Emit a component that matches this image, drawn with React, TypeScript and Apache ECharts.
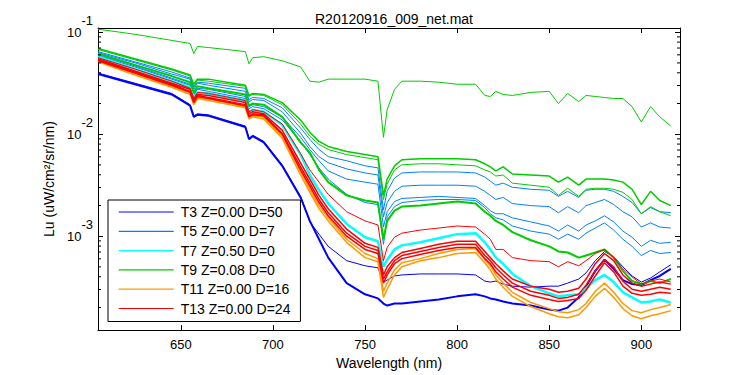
import React, { useEffect, useRef } from 'react';
import * as echarts from 'echarts';

// Wavelength axis (nm) shared by every cast
const wavelengths = [605, 625, 645, 655, 657, 659, 665, 685, 687, 689, 695, 705, 715, 720, 725, 730, 740, 750, 757, 760, 762, 766, 770, 780, 790, 800, 810, 815, 818, 821, 825, 830, 840, 850, 855, 860, 866, 870, 875, 880, 885, 890, 895, 900, 905, 910, 916];

// log10 of Lu (uW/cm^2/sr/nm)
const t3Cast1 = [-1.41, -1.51, -1.61, -1.72, -1.83, -1.81, -1.82, -1.93, -2.05, -2.02, -2.08, -2.31, -2.62, -2.85, -3.03, -3.21, -3.46, -3.57, -3.61, -3.66, -3.68, -3.66, -3.66, -3.64, -3.62, -3.59, -3.57, -3.59, -3.61, -3.62, -3.64, -3.66, -3.68, -3.72, -3.73, -3.70, -3.60, -3.49, -3.34, -3.23, -3.32, -3.43, -3.47, -3.48, -3.43, -3.39, -3.32];
const t3Cast2 = [-1.40, -1.50, -1.60, -1.71, -1.82, -1.80, -1.81, -1.92, -2.04, -2.01, -2.07, -2.30, -2.61, -2.86, -2.98, -3.10, -3.24, -3.29, -3.31, -3.45, -3.43, -3.39, -3.38, -3.37, -3.37, -3.37, -3.38, -3.44, -3.45, -3.44, -3.47, -3.49, -3.50, -3.49, -3.49, -3.46, -3.42, -3.36, -3.24, -3.15, -3.20, -3.30, -3.39, -3.45, -3.41, -3.35, -3.28];

const t5Cast1 = [-1.19, -1.29, -1.39, -1.45, -1.54, -1.49, -1.50, -1.55, -1.66, -1.64, -1.65, -1.74, -1.94, -2.05, -2.15, -2.22, -2.26, -2.31, -2.33, -2.74, -2.56, -2.43, -2.38, -2.37, -2.37, -2.37, -2.38, -2.42, -2.46, -2.50, -2.48, -2.52, -2.54, -2.55, -2.61, -2.56, -2.62, -2.55, -2.54, -2.54, -2.56, -2.61, -2.67, -2.78, -2.72, -2.76, -2.77];
const t5Cast2 = [-1.20, -1.30, -1.41, -1.46, -1.56, -1.50, -1.52, -1.58, -1.68, -1.66, -1.67, -1.78, -1.99, -2.12, -2.22, -2.28, -2.34, -2.38, -2.40, -2.81, -2.67, -2.56, -2.51, -2.50, -2.50, -2.50, -2.51, -2.56, -2.60, -2.64, -2.62, -2.68, -2.70, -2.71, -2.77, -2.71, -2.77, -2.70, -2.67, -2.64, -2.69, -2.76, -2.81, -2.91, -2.87, -2.91, -2.92];
const t5Cast3 = [-1.22, -1.33, -1.45, -1.51, -1.61, -1.55, -1.56, -1.63, -1.73, -1.71, -1.73, -1.83, -2.03, -2.15, -2.26, -2.36, -2.44, -2.47, -2.49, -2.91, -2.76, -2.66, -2.63, -2.62, -2.61, -2.62, -2.63, -2.70, -2.75, -2.78, -2.78, -2.82, -2.86, -2.90, -2.95, -2.89, -2.95, -2.89, -2.85, -2.80, -2.86, -2.95, -3.01, -3.10, -3.04, -3.07, -3.06];
const t5Cast4 = [-1.23, -1.34, -1.46, -1.52, -1.62, -1.56, -1.58, -1.65, -1.75, -1.73, -1.75, -1.86, -2.07, -2.20, -2.33, -2.44, -2.59, -2.67, -2.69, -3.08, -2.81, -2.71, -2.67, -2.65, -2.64, -2.64, -2.65, -2.72, -2.78, -2.82, -2.84, -2.90, -2.95, -2.98, -3.03, -2.98, -3.03, -2.97, -2.92, -2.87, -2.94, -3.03, -3.10, -3.19, -3.14, -3.17, -3.16];

const t7Cast1 = [-1.24, -1.36, -1.48, -1.54, -1.64, -1.59, -1.60, -1.67, -1.78, -1.76, -1.78, -1.91, -2.20, -2.40, -2.55, -2.68, -2.88, -3.01, -3.05, -3.30, -3.23, -3.13, -3.09, -3.06, -3.02, -2.98, -2.97, -3.06, -3.13, -3.21, -3.27, -3.37, -3.49, -3.56, -3.59, -3.58, -3.57, -3.51, -3.43, -3.38, -3.45, -3.55, -3.60, -3.65, -3.64, -3.62, -3.65];

const t9Cast1 = [-0.97, -1.02, -1.08, -1.11, -1.21, -1.14, -1.15, -1.19, -1.31, -1.25, -1.24, -1.28, -1.34, -1.48, -1.49, -1.46, -1.46, -1.46, -1.48, -2.03, -1.76, -1.56, -1.48, -1.48, -1.49, -1.51, -1.51, -1.62, -1.63, -1.58, -1.61, -1.62, -1.59, -1.58, -1.70, -1.60, -1.68, -1.62, -1.63, -1.64, -1.65, -1.65, -1.73, -1.88, -1.73, -1.83, -1.92];
const t9Cast2 = [-1.16, -1.26, -1.36, -1.42, -1.51, -1.46, -1.46, -1.52, -1.62, -1.60, -1.61, -1.69, -1.86, -1.98, -2.07, -2.12, -2.17, -2.20, -2.22, -2.60, -2.44, -2.31, -2.25, -2.24, -2.24, -2.24, -2.25, -2.29, -2.32, -2.36, -2.32, -2.39, -2.40, -2.41, -2.47, -2.42, -2.50, -2.44, -2.44, -2.44, -2.45, -2.47, -2.54, -2.69, -2.56, -2.65, -2.70];
const t9Cast3 = [-1.17, -1.27, -1.37, -1.43, -1.53, -1.47, -1.48, -1.53, -1.63, -1.61, -1.62, -1.71, -1.90, -2.02, -2.10, -2.15, -2.20, -2.23, -2.25, -2.64, -2.49, -2.35, -2.30, -2.29, -2.29, -2.30, -2.31, -2.35, -2.37, -2.41, -2.40, -2.48, -2.50, -2.52, -2.60, -2.53, -2.61, -2.54, -2.53, -2.53, -2.54, -2.57, -2.64, -2.78, -2.71, -2.76, -2.80];
const t9Cast4 = [-1.21, -1.32, -1.43, -1.49, -1.59, -1.53, -1.55, -1.61, -1.72, -1.70, -1.71, -1.83, -2.08, -2.18, -2.35, -2.47, -2.60, -2.65, -2.67, -3.03, -2.85, -2.75, -2.71, -2.70, -2.68, -2.66, -2.68, -2.76, -2.80, -2.85, -2.89, -2.96, -3.04, -3.10, -3.15, -3.16, -3.21, -3.19, -3.16, -3.13, -3.21, -3.34, -3.44, -3.47, -3.44, -3.46, -3.42];

const t11Cast1 = [-1.28, -1.40, -1.53, -1.59, -1.69, -1.64, -1.65, -1.73, -1.83, -1.82, -1.83, -2.02, -2.37, -2.54, -2.70, -2.82, -3.03, -3.17, -3.22, -3.54, -3.46, -3.33, -3.26, -3.22, -3.17, -3.13, -3.12, -3.23, -3.29, -3.38, -3.46, -3.55, -3.65, -3.71, -3.74, -3.75, -3.72, -3.66, -3.54, -3.46, -3.55, -3.66, -3.73, -3.75, -3.72, -3.70, -3.67];
const t11Cast2 = [-1.29, -1.42, -1.54, -1.61, -1.71, -1.65, -1.67, -1.74, -1.85, -1.83, -1.85, -2.04, -2.40, -2.57, -2.73, -2.85, -3.06, -3.21, -3.25, -3.60, -3.52, -3.38, -3.30, -3.24, -3.21, -3.17, -3.16, -3.26, -3.33, -3.42, -3.50, -3.59, -3.69, -3.76, -3.79, -3.80, -3.77, -3.70, -3.59, -3.51, -3.60, -3.71, -3.78, -3.81, -3.78, -3.76, -3.73];

const t13Cast1 = [-1.25, -1.36, -1.48, -1.55, -1.65, -1.59, -1.60, -1.67, -1.78, -1.76, -1.78, -1.90, -2.19, -2.35, -2.47, -2.59, -2.76, -2.85, -2.89, -3.24, -3.11, -3.01, -2.97, -2.94, -2.92, -2.90, -2.91, -2.98, -3.03, -3.13, -3.13, -3.21, -3.24, -3.25, -3.30, -3.25, -3.29, -3.24, -3.17, -3.13, -3.21, -3.32, -3.40, -3.47, -3.44, -3.42, -3.45];
const t13Cast2 = [-1.26, -1.38, -1.50, -1.56, -1.66, -1.61, -1.62, -1.69, -1.80, -1.78, -1.80, -1.96, -2.28, -2.44, -2.60, -2.73, -2.93, -3.07, -3.11, -3.38, -3.30, -3.21, -3.16, -3.12, -3.08, -3.05, -3.05, -3.15, -3.21, -3.27, -3.34, -3.42, -3.49, -3.52, -3.55, -3.54, -3.51, -3.42, -3.27, -3.17, -3.24, -3.38, -3.46, -3.49, -3.47, -3.45, -3.47];
const t13Cast3 = [-1.27, -1.39, -1.51, -1.58, -1.68, -1.62, -1.64, -1.71, -1.82, -1.80, -1.81, -1.99, -2.32, -2.48, -2.64, -2.77, -2.97, -3.10, -3.14, -3.42, -3.35, -3.24, -3.19, -3.15, -3.11, -3.08, -3.08, -3.19, -3.24, -3.31, -3.38, -3.46, -3.54, -3.58, -3.61, -3.60, -3.57, -3.48, -3.34, -3.23, -3.30, -3.44, -3.52, -3.54, -3.52, -3.50, -3.52];
const t13Cast4 = [-1.28, -1.40, -1.52, -1.59, -1.69, -1.63, -1.65, -1.72, -1.83, -1.81, -1.82, -2.00, -2.35, -2.51, -2.67, -2.80, -3.00, -3.13, -3.17, -3.46, -3.38, -3.27, -3.22, -3.18, -3.14, -3.11, -3.11, -3.22, -3.27, -3.35, -3.42, -3.50, -3.58, -3.62, -3.64, -3.63, -3.61, -3.53, -3.39, -3.26, -3.35, -3.49, -3.56, -3.58, -3.57, -3.55, -3.56];

// Legend entries
const legendNames = ['T3 Z=0.00 D=50', 'T5 Z=0.00 D=7', 'T7 Z=0.50 D=0', 'T9 Z=0.08 D=0', 'T11 Z=0.00 D=16', 'T13 Z=0.00 D=24'];

// Minor tick positions of the log axis
const minorTickValues = [
  2e-4, 3e-4, 4e-4, 5e-4, 6e-4, 7e-4, 8e-4, 9e-4,
  2e-3, 3e-3, 4e-3, 5e-3, 6e-3, 7e-3, 8e-3, 9e-3,
  2e-2, 3e-2, 4e-2, 5e-2, 6e-2, 7e-2, 8e-2, 9e-2,
];

const X_MIN = 605;
const X_MAX = 921;
const Y_MIN = 1.2e-4;
const Y_MAX = 0.11;
const FONT = '"Liberation Sans", Arial, Helvetica, sans-serif';

const C_BLUE = '#0000FF';
const C_MBLUE = '#0080FF';
const C_CYAN = '#00FFFF';
const C_GREEN = '#00CC00';
const C_ORANGE = '#FF9900';
const C_RED = '#FF0000';

const seriesDefs = [
  { name: legendNames[0], color: C_BLUE, width: 2, values: t3Cast1 },
  { name: legendNames[0], color: C_BLUE, width: 1, values: t3Cast2 },
  { name: legendNames[1], color: C_MBLUE, width: 1, values: t5Cast1 },
  { name: legendNames[1], color: C_MBLUE, width: 1, values: t5Cast2 },
  { name: legendNames[1], color: C_MBLUE, width: 1, values: t5Cast3 },
  { name: legendNames[1], color: C_MBLUE, width: 1, values: t5Cast4 },
  { name: legendNames[2], color: C_CYAN, width: 2.5, values: t7Cast1 },
  { name: legendNames[3], color: C_GREEN, width: 1, values: t9Cast1 },
  { name: legendNames[3], color: C_GREEN, width: 1.5, values: t9Cast2 },
  { name: legendNames[3], color: C_GREEN, width: 1, values: t9Cast3 },
  { name: legendNames[3], color: C_GREEN, width: 2, values: t9Cast4 },
  { name: legendNames[4], color: C_ORANGE, width: 1.5, values: t11Cast1 },
  { name: legendNames[4], color: C_ORANGE, width: 1.5, values: t11Cast2 },
  { name: legendNames[5], color: C_RED, width: 1, values: t13Cast1 },
  { name: legendNames[5], color: C_RED, width: 1.5, values: t13Cast2 },
  { name: legendNames[5], color: C_RED, width: 1.5, values: t13Cast3 },
  { name: legendNames[5], color: C_RED, width: 1.5, values: t13Cast4 },
];

const axisLineStyle = { show: true, onZero: false, lineStyle: { color: '#000', width: 1 } };
const tickStyle = { show: true, inside: true, length: 5, lineStyle: { color: '#000', width: 1 } };

export default function App() {
  const ref = useRef<HTMLDivElement | null>(null);

  useEffect(() => {
    if (!ref.current) return;
    const chart = echarts.init(ref.current, null, { renderer: 'svg' });

    const lineSeries = seriesDefs.map((d) => ({
      type: 'line',
      name: d.name,
      xAxisIndex: 0,
      yAxisIndex: 0,
      data: wavelengths.map((w, i) => [w, Math.pow(10, d.values[i])]),
      showSymbol: false,
      symbol: 'none',
      lineStyle: { color: d.color, width: d.width },
      itemStyle: { color: d.color },
      silent: true,
      clip: true,
      z: 2,
    }));

    const minorTicks = {
      type: 'custom',
      xAxisIndex: 0,
      yAxisIndex: 0,
      silent: true,
      clip: false,
      z: 3,
      encode: { x: 0, y: 1 },
      data: minorTickValues.map((v) => [X_MIN, v]),
      renderItem: (_params: any, api: any) => {
        const v = api.value(1);
        const l = api.coord([X_MIN, v]);
        const r = api.coord([X_MAX, v]);
        return {
          type: 'group',
          children: [
            { type: 'line', shape: { x1: l[0], y1: l[1], x2: l[0] + 3, y2: l[1] }, style: { stroke: '#000', lineWidth: 1 } },
            { type: 'line', shape: { x1: r[0] - 3, y1: r[1], x2: r[0], y2: r[1] }, style: { stroke: '#000', lineWidth: 1 } },
          ],
        };
      },
    };

    const yLabelFormatter = (v: number) => {
      const lg = Math.log10(v);
      const r = Math.round(lg);
      return Math.abs(lg - r) < 1e-6 ? `{b|10}{e|${r}}` : '';
    };

    const option: any = {
      animation: false,
      backgroundColor: '#ffffff',
      textStyle: { fontFamily: FONT },
      title: {
        text: 'R20120916_009_net.mat',
        left: 389,
        top: 7,
        textAlign: 'center',
        textStyle: { fontFamily: FONT, fontSize: 14, fontWeight: 'normal', color: '#000' },
      },
      grid: { left: 98, top: 28, right: 70, bottom: 44, containLabel: false },
      legend: {
        data: legendNames,
        orient: 'vertical',
        left: 108,
        top: 200,
        padding: [5, 10, 6, 10.7],
        icon: 'rect',
        itemWidth: 55,
        itemHeight: 1.2,
        itemGap: 5.3,
        backgroundColor: '#ffffff',
        borderColor: '#000',
        borderWidth: 1,
        borderRadius: 0,
        textStyle: { fontFamily: FONT, fontSize: 14, lineHeight: 14, color: '#000', padding: [0, 0, 0, 2] },
      },
      xAxis: [
        {
          type: 'value',
          min: X_MIN,
          max: X_MAX,
          position: 'bottom',
          name: 'Wavelength (nm)',
          nameLocation: 'middle',
          nameGap: 25,
          nameTextStyle: { fontFamily: FONT, fontSize: 14, color: '#000' },
          axisLine: axisLineStyle,
          axisTick: tickStyle,
          axisLabel: {
            margin: 8,
            fontFamily: FONT,
            fontSize: 13,
            color: '#000',
            formatter: (v: number) => (v % 50 === 0 ? String(v) : ''),
          },
          splitLine: { show: false },
        },
        {
          type: 'value',
          min: X_MIN,
          max: X_MAX,
          position: 'top',
          axisLine: axisLineStyle,
          axisTick: tickStyle,
          axisLabel: { show: false },
          splitLine: { show: false },
        },
      ],
      yAxis: [
        {
          type: 'log',
          logBase: 10,
          min: Y_MIN,
          max: Y_MAX,
          position: 'left',
          name: 'Lu (uW/cm²/sr/nm)',
          nameLocation: 'middle',
          nameRotate: 90,
          nameGap: 37,
          nameTextStyle: { fontFamily: FONT, fontSize: 14, color: '#000' },
          axisLine: axisLineStyle,
          axisTick: tickStyle,
          axisLabel: {
            margin: 5,
            formatter: yLabelFormatter,
            rich: {
              b: { fontFamily: FONT, fontSize: 13, color: '#000', lineHeight: 37, verticalAlign: 'middle' },
              e: { fontFamily: FONT, fontSize: 13, color: '#000', lineHeight: 13, verticalAlign: 'top' },
            },
          },
          splitLine: { show: false },
          minorTick: { show: false },
        },
        {
          type: 'log',
          logBase: 10,
          min: Y_MIN,
          max: Y_MAX,
          position: 'right',
          axisLine: axisLineStyle,
          axisTick: tickStyle,
          axisLabel: { show: false },
          splitLine: { show: false },
        },
      ],
      series: [...lineSeries, minorTicks],
    };

    chart.setOption(option);
    return () => {
      chart.dispose();
    };
  }, []);

  return (
    <div
      ref={ref}
      style={{ position: 'fixed', left: 0, top: 0, width: 750, height: 375, background: '#fff' }}
    />
  );
}
